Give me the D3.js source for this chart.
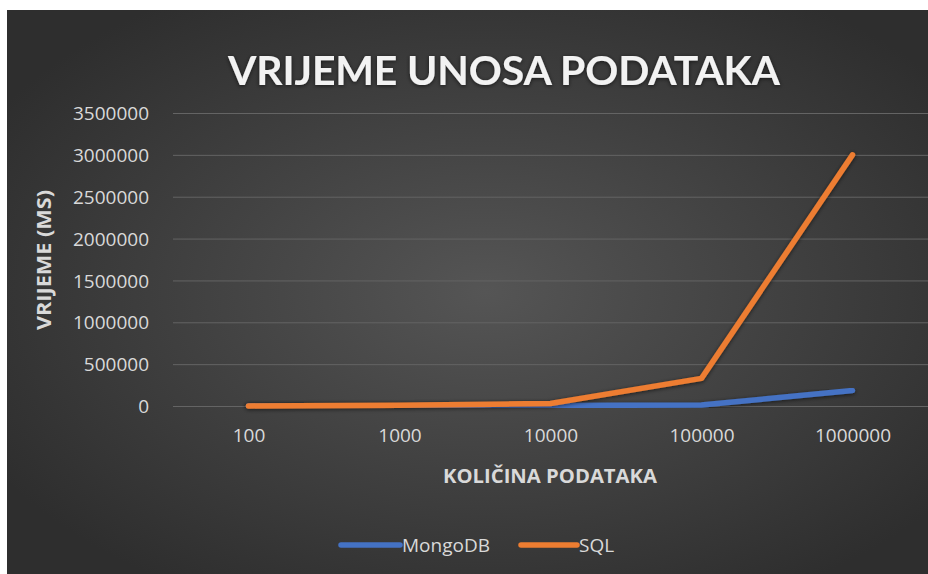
<!DOCTYPE html>
<html>
<head>
<meta charset="utf-8">
<script src="https://cdn.jsdelivr.net/npm/d3@7"></script>
<style>
  html, body { margin: 0; padding: 0; background: #ffffff; }
  svg { display: block; }
</style>
</head>
<body>
<svg id="chart" width="928" height="574"></svg>
<script>
// ---- data ----
const categories = ["100", "1000", "10000", "100000", "1000000"];
const mongoValues = [300, 1500, 6000, 12000, 185000];
const sqlValues = [1000, 8000, 30000, 330000, 3000000];
const yTicks = [0, 500000, 1000000, 1500000, 2000000, 2500000, 3000000, 3500000];
const seriesNames = ["MongoDB", "SQL"];
const seriesColors = ["#4472c4", "#ed7d31"];
const titleText = "VRIJEME UNOSA PODATAKA";
const yTitleText = "VRIJEME (MS)";
const xTitleText = "KOLIČINA PODATAKA";

const svg = d3.select("#chart");
const W = 928, H = 574;

// background panel
const defs = svg.append("defs");
const grad = defs.append("radialGradient").attr("id", "bg")
  .attr("cx", "0.52").attr("cy", "0.5").attr("r", "0.62");
grad.append("stop").attr("offset", "0%").attr("stop-color", "#555555");
grad.append("stop").attr("offset", "100%").attr("stop-color", "#2e2e2e");

const glow = defs.append("filter").attr("id", "glow")
  .attr("x", "-10%").attr("y", "-10%").attr("width", "120%").attr("height", "120%");
glow.append("feGaussianBlur").attr("in", "SourceAlpha").attr("stdDeviation", 2).attr("result", "b");
glow.append("feOffset").attr("in", "b").attr("dx", 0).attr("dy", 1).attr("result", "o");
glow.append("feComponentTransfer").attr("in", "o").attr("result", "s")
  .append("feFuncA").attr("type", "linear").attr("slope", 0.6);
const merge = glow.append("feMerge");
merge.append("feMergeNode").attr("in", "s");
merge.append("feMergeNode").attr("in", "SourceGraphic");

svg.append("rect").attr("x", 0).attr("y", 0).attr("width", W).attr("height", H).attr("fill", "#ffffff");
svg.append("rect").attr("x", 7).attr("y", 10).attr("width", W - 7).attr("height", H - 10).attr("fill", "url(#bg)");

// scales
const x = d3.scalePoint().domain(categories).range([173, 928]).padding(0.5);
const y = d3.scaleLinear().domain([0, 3500000]).range([406, 113]);

const fontFam = "'Open Sans', 'Liberation Sans', sans-serif";

// y axis with gridlines
const yAxis = d3.axisLeft(y).tickValues(yTicks).tickSize(-(928 - 173)).tickPadding(24)
  .tickFormat(d3.format("d"));
const gy = svg.append("g").attr("transform", "translate(173,0)").call(yAxis);
gy.select(".domain").remove();
gy.selectAll(".tick line").attr("stroke", "#646464").attr("stroke-width", 1);
gy.selectAll(".tick text").attr("fill", "#d9d9d9").attr("font-family", fontFam)
  .attr("font-size", 19).attr("dy", "0.35em");

// x axis labels
const xAxis = d3.axisBottom(x).tickSize(0).tickPadding(0);
const gx = svg.append("g").attr("transform", "translate(0,428)").call(xAxis);
gx.select(".domain").remove();
gx.selectAll(".tick text").attr("fill", "#d9d9d9").attr("font-family", fontFam)
  .attr("font-size", 19).attr("dy", "0.71em");

// lines
const line = d3.line().x((d, i) => x(categories[i])).y(d => y(d));
[mongoValues, sqlValues].forEach((vals, k) => {
  svg.append("path").datum(vals)
    .attr("d", line)
    .attr("fill", "none")
    .attr("stroke", seriesColors[k])
    .attr("stroke-width", 5.5)
    .attr("stroke-linejoin", "round")
    .attr("stroke-linecap", "round")
    .attr("filter", "url(#glow)");
});

// title
svg.append("text")
  .attr("x", 504).attr("y", 85)
  .attr("text-anchor", "middle")
  .attr("font-family", "Lato, 'Open Sans', sans-serif").attr("font-weight", "bold")
  .attr("font-size", 41)
  .attr("fill", "#f2f2f2")
  .attr("textLength", 552).attr("lengthAdjust", "spacing")
  .attr("filter", "url(#glow)")
  .text(titleText);

// y title
svg.append("text")
  .attr("transform", "translate(51,260) rotate(-90)")
  .attr("text-anchor", "middle")
  .attr("font-family", fontFam).attr("font-weight", "bold")
  .attr("font-size", 19)
  .attr("fill", "#d9d9d9")
  .attr("textLength", 140).attr("lengthAdjust", "spacingAndGlyphs")
  .text(yTitleText);

// x title
svg.append("text")
  .attr("x", 550).attr("y", 483)
  .attr("text-anchor", "middle")
  .attr("font-family", fontFam).attr("font-weight", "bold")
  .attr("font-size", 19)
  .attr("fill", "#d9d9d9")
  .attr("textLength", 214).attr("lengthAdjust", "spacingAndGlyphs")
  .text(xTitleText);

// legend
const legendItems = [
  { name: seriesNames[0], color: seriesColors[0], x0: 341, x1: 400 },
  { name: seriesNames[1], color: seriesColors[1], x0: 521, x1: 577 }
];
const lg = svg.append("g");
legendItems.forEach(it => {
  lg.append("line").attr("x1", it.x0).attr("x2", it.x1).attr("y1", 545).attr("y2", 545)
    .attr("stroke", it.color).attr("stroke-width", 5.5).attr("stroke-linecap", "round");
  lg.append("text").attr("x", it.x1 + 2).attr("y", 545).attr("dy", "0.35em")
    .attr("font-family", fontFam).attr("font-size", 19).attr("fill", "#d9d9d9")
    .text(it.name);
});
</script>
</body>
</html>
